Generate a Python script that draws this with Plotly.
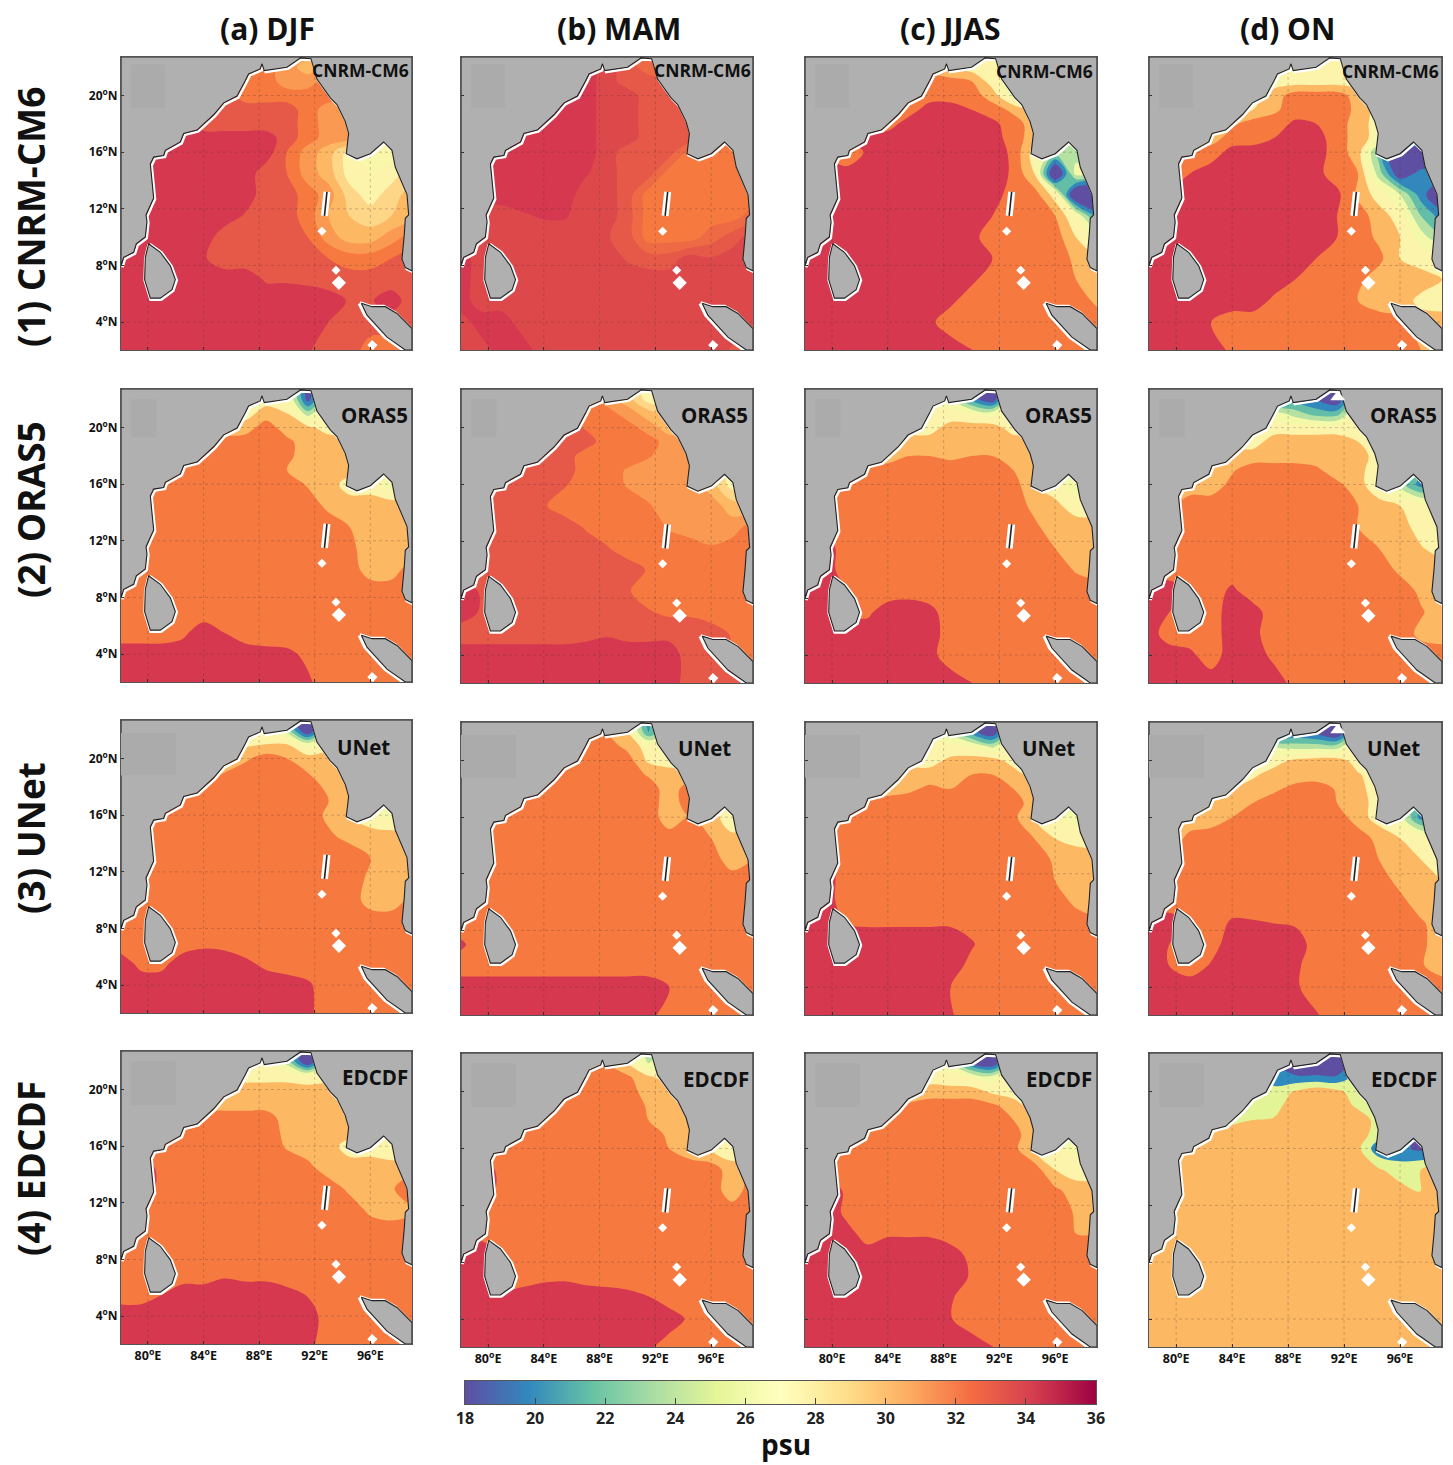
import plotly.graph_objects as go

W, H = 1453, 1465
LONS = [78, 79.5, 81, 82.5, 84, 85.5, 87, 88.5, 90, 91.5, 93, 94.5, 96, 97.5, 99]
LATS = [23, 22, 21, 20, 19, 18, 17, 16, 14.5, 13, 11.5, 10, 8.5, 7, 5.5, 4, 2]
LON_TICKS = [80, 84, 88, 92, 96]
LAT_TICKS = [4, 8, 12, 16, 20]
CBAR_VALUES = list(range(18, 37))
CBAR_TICKS = list(range(18, 37, 2))
SEASONS = ["(a) DJF", "(b) MAM", "(c) JJAS", "(d) ON"]
PRODUCTS = ["CNRM-CM6", "ORAS5", "UNet", "EDCDF"]

COAST_LON = [78.06, 78.25, 78.97, 79.16, 79.81, 79.93, 79.86, 80.41, 80.17, 80.41, 81.13, 81.25, 82.33, 82.57, 83.53, 84.73, 85.45, 86.41, 87.0, 87.24, 88.08, 88.2, 88.37, 90.0, 90.96, 91.73, 92.16, 93.12, 93.6, 94.2, 94.44, 94.27, 95.04, 96.0, 96.96, 97.56, 97.8, 98.64, 98.76, 98.52, 98.44, 98.28, 98.52, 99.0]
COAST_LAT = [7.97, 8.57, 8.93, 9.53, 10.01, 11.09, 11.57, 12.77, 15.17, 15.65, 15.77, 16.13, 16.72, 17.32, 17.56, 18.64, 19.48, 19.96, 21.04, 21.52, 21.88, 22.24, 21.76, 22.0, 22.65, 22.6, 21.16, 19.84, 19.36, 18.16, 17.32, 15.89, 15.53, 15.89, 16.72, 16.13, 14.93, 13.01, 11.57, 11.33, 10.13, 8.45, 7.85, 7.61]
NORTH_LON = [99.0, 78.06]
NORTH_LAT = [22.72, 22.72]
LANKA_LON = [80.05, 79.81, 79.76, 80.17, 80.89, 81.73, 81.97, 81.61, 80.89, 80.05]
LANKA_LAT = [9.53, 8.57, 7.0, 5.69, 5.69, 6.29, 7.0, 7.97, 8.93, 9.53]
SUMATRA_LON = [95.35, 95.76, 97.2, 98.52, 99.0, 99.0, 97.92, 97.08, 96.12, 95.35]
SUMATRA_LAT = [5.33, 4.49, 2.94, 2.03, 2.03, 3.54, 4.61, 5.09, 5.09, 5.33]
ANDAMAN_LON = [92.88, 92.7]
ANDAMAN_LAT = [13.2, 11.5]
NIAS_LON = [95.95, 96.35]
NIAS_LAT = [2.55, 2.2]
ISLE_LON = [92.52, 93.53, 93.74]
ISLE_LAT = [10.42, 7.66, 6.77]
ISLE_SIZE = [7, 7, 11]

CNRM_DJF = [
[33,33,33,33,33,33,32,32,32,31,31,31,31,31,31],
[33,33,33,33,33,33,32,32,31,30,31,32,32,32,32],
[33,33,33,33,33,32,32,32,31,31,32,32,32,32,32],
[33,33,33,33,33,33,32,32,32,32,32,32,32,32,32],
[34,34,34,33,33,33,33,33,33,32,31,31,31,31,31],
[34,34,34,34,33,33,33,33,33,32,31,31,31,31,31],
[34,34,34,34,34,34,34,34,33,32,31,31,30,30,30],
[34,34,34,34,34,34,34,34,32.5,31,30,28,27,27,27],
[34,34,34,34,34,34,34,33,32.5,31,30,28,27.5,28,29],
[34,34,34,34,34,34,34,33,33,32,31,29,28,29,30],
[34,34,34,34,34,34,33.4,33,33,32,30.5,29.5,29,29.5,30],
[34,34,34,34,34,33,33,33,33,32.5,31,30,30,31,32],
[34,34,34,34,33.6,33,33,33,33,33,32.5,32,32,32.5,33],
[34,34,34,34,34,34,34,33.4,33.4,33.3,33,33,33,33,33],
[34,34,34,34,34,34,34,34,34,34,34,33.4,33.4,34,33],
[34,34,34,34,34,34,34,34,34,34,33.5,33,33,33,33],
[34,34,34,34,34,34,34,34,34,33.6,33,33,32,32,32]]
CNRM_MAM = [
[33.5,33.5,33.5,33.5,33.5,33.5,33.5,33.5,33,32,32,32,32,32,32],
[34,34,34,34,34,34,34,33.5,33,32.5,32,32,32,32,32],
[34,34,34,34,34,34,34,33.5,33,33,33,33,33,33,33],
[34,34,34,34,34,34,34,33.5,33.5,33,33,33,33,33,33],
[34,34,34,34,34,34,34,33.5,33.5,33,33,33,33,33,33],
[34,34,34,34,34,34,34,33.5,33.5,33,33,33,33,33,33],
[34,34,34,34,34,34,34,33.5,33.5,33,33,33,32,32,32],
[34,34,34,34,34,34,34,33.5,33,33,33,32,32,32,32],
[34,34,34,34,34,34,33.8,33.5,33,33,32,32,32,32,32],
[34,34,34,34,34,34,33.5,33.5,33,32,32,32,32,32,32],
[33.5,33.5,33.5,33.7,33.8,33.8,33.5,33.5,33,32,32,32,32,32,32.5],
[33.5,33.5,33.5,33.5,33.5,33.5,33.5,33.3,33,32,32,32,32.5,33,33.5],
[34,33.5,33.5,33.5,33.5,33.5,33.5,33.5,33.2,33,33,33.5,33.3,33.5,33.7],
[34,33.5,33.5,33.5,33.5,33.5,33.5,33.5,33.5,33.5,33.5,33.5,33.5,33.5,33.5],
[34,33.5,33.5,33.5,33.5,33.5,33.5,33.5,33.5,33.5,33.5,33.5,33.5,33.5,33.5],
[33.5,34,34,33.5,33.5,33.5,33.5,33.5,33.5,33.5,33.5,33.5,33.5,33.5,33.5],
[33.5,33.5,34,34,33.5,33.5,33.5,33.5,33.5,33.5,33.5,33.5,33.5,33.2,33]]
CNRM_JJAS = [
[28,28,28,28,28,28,28,28,28,28,28,28,28,28,28],
[30,30,30,30,30,30,30,28,28,28,28,28,28,28,28],
[32,32,32,32,32,32,32,32,31,28,26,28,28,28,28],
[32,32,32,32,32,32,32,32,32,30,26,28,28,28,28],
[32,32,32,32,32,32,34,34,33,32,30.5,28,28,28,28],
[32,32,32,32,32,34,34,34,34,33.5,32,30,28,28,28],
[34,34,34,34,34,34,34,34,34,34,32,30,28,26,26],
[34,33,31,33.4,34,34,34,34,34,34,32.6,28,24,24,24],
[34,34,34,34,34,34,34,34,34,34,32.7,29,15,26,24],
[34,34,34,34,34,34,34,34,34,34,32,32,28,15,15],
[34,34,34,34,34,34,34,34,34,33,32,32,31,27,20],
[34,34,34,34,34,34,34,34,33.6,32,32,32,32,29,26],
[34,34,34,34,34,34,34,34,34,33,32,32,32,30.6,29],
[34,34,34,34,34,34,34,34,33.4,32,32,32,32,31,30],
[34,34,34,34,34,34,34,33.4,32,32,32,32,32,32,30.6],
[34,34,34,34,34,34,33.4,32,32,32,32,32,32,32,32],
[34,34,34,34,34,34,34,34,33.1,32,32,32,32,32,32]]
CNRM_ON = [
[28,28,28,28,28,28,28,28,28,28,28,28,28,28,28],
[28,28,28,28,28,28,28,28,27,28,28,28,28,28,28],
[28,28,28,28,28,28,28,28,28,28,28,28,28,28,28],
[28,28,28,28,28,28,30,32,32,32,30,28,28,28,28],
[28,28,28,28,28,29,30.6,32,32,32,30.5,28,28,28,28],
[28,28,28,28,30.6,32,32,33.4,33,32,30,28,28,28,28],
[28,28,28,30,32,32,33,34,33.8,32,30,28,27,25,25],
[30,30,32,32,33.7,34,34,34,34,32,30,22,15,15,15],
[32,32,33,34,34,34,34,34,33.6,32,31,24,17,20,20],
[32,33,34,34,34,34,34,34,34,33.5,30.6,28,25,20,16],
[32,34,34,34,34,34,34,34,34,33,32,30,28,23,20],
[34,34,34,34,34,34,34,34,34,33,32,30.6,29,26,23],
[34,34,34,34,34,34,34,34,33,32,32,31.5,29,28,28],
[34,34,34,34,34,34,34,33,32,32,31.5,30,30,30,29],
[34,34,34,34,34,34,32.6,32,32,32,31,30,30,28.4,28],
[34,34,34,33,32,32,32,32,32,32,32,32,31.5,30,30],
[34,34,34,34,32.6,32,32,32,32,32,32,32,32,31,30]]
ORAS_DJF = [
[28,28,28,28,28,28,28,28,27,18,24,28,28,28,28],
[28,28,28,28,28,28,28,28,28,18,26,28,28,28,28],
[28,28,28,28,28,28,28,30,29,24,28,28,28,28,28],
[30,30,30,30,30,30,30,32,30,29.5,28,28,28,28,28],
[30,30,30,30,30,31.5,32,32,31.5,30,30,30,30,30,30],
[30,30,30,30,32,32,32,32,31.5,30,30,30,30,30,30],
[30,30,30,32,32,32,32,32,31,30,30,30,30,28,24],
[30,32,32,32,32,32,32,32,32,30.8,30,28,28,26,26],
[32,32,32,32,32,32,32,32,32,32,30.5,30,30,30,30],
[32,32,32,32,32,32,32,32,32,32,32,31,30,30,30],
[32,32,32,32,32,32,32,32,32,32,32,31.5,30,30,30],
[32,32,32,32,32,32,32,32,32,32,32,32,30,30,32],
[32,32,32,32,32,32,32,32,32,32,32,32,32,32,32],
[32,32,32,32,32,32,32,32,32,32,32,32,32,32,32],
[32,32,32,32.6,34,33,32,32,32,32,32,32,32,32,32],
[34,34,34,34,34,34,34,33.6,33.4,32.6,32,32,32,32,32],
[34,34,34,34,34,34,34,34,34,33.3,32,32,32,32,32]]
ORAS_MAM = [
[33,33,33,33,33,33,32,31,30,27,28,28,28,28,28],
[33,33,33,33,33,33,32,31,30,28,28,28,28,28,28],
[33,33,33,33,33,33,32,32,31,30,29,29,29,29,29],
[33,33,33,33,33,33,32.4,32,32,31,30,30,30,30,30],
[33,33,33,33,33,33,33,32,32,32,31,31,31,31,31],
[33,33,33,33,33,33,32,32,32,31.6,31,31,31,31,31],
[33,33,33,33,33,33,32,32,31.4,31,31,31,30,28,28],
[33,33,33,33,33,32.6,32,32,31.4,31,31,31,30,28,28],
[33,33,33,33,32.6,32,32,32,32,31.6,31,31,31,30,30],
[33,33,33,33,33,33,32.4,32,32,32,31.4,31,31,31,32],
[33,33,33,33,33,33,33,32.6,32,32,32,32,31.6,32,32],
[33,33,33,33,33,33,33,33,33,32.4,32,32,32,32,32],
[34,33.4,33,33,33,33,33,33,32.6,32,32,32,32,32,32],
[34,33.4,33,33,33,33,33,33,33,32.6,32.3,32.3,32,32,32],
[33,33,33,33,33,33,33.2,33.4,33.2,33.2,33.2,33.2,33,32.4,32],
[34,34,34,34,34,34,34,34,34,34,34,33,33,32.6,32.4],
[34,34,34,34,34,34,34,34,34,34,34,33,33,33,33]]
ORAS_JJAS = [
[28,28,28,28,28,28,28,28,18,16,26,28,28,28,28],
[26,26,26,26,26,26,26,26,20,17,28,28,28,28,28],
[28,28,28,28,28,28,28,27.5,27,26,28,28,28,28,28],
[28,28,28,28,28,28,28,30,30,30,28,28,28,28,28],
[30,30,30,30,30,30,30,30,30,30,30,30,28,28,28],
[30,30,30,30,30,31,31,30.6,31,31,30,30,30,30,30],
[30,30,30,32,32,32,32,32,32,32,31,30,28,26,24],
[32,32,32,32,32,32,32,32,32,32,32,29,28,26,26],
[32,32,32,32,32,32,32,32,32,32,32,30.5,29.5,28,28],
[32,33,32,32,32,32,32,32,32,32,32,31.4,30,30,30],
[32,34,32,32,32,32,32,32,32,32,32,32,31,30,30],
[34,34,32,32,32,32,32,32,32,32,32,32,32,30.8,30],
[34,34,33,32,32,32,32,32,32,32,32,32,32,32,32],
[34,34,33,32.6,34,34.5,33.6,32,32,32,32,32,32,32,32],
[34,34,34,34,34,34,34,32,32,32,32,32,32,32,32],
[34,34,34,34,34,34,33.6,32,32,32,32,32,32,32,32],
[34,34,34,34,34,34,34,34,33.1,32,32,32,32,32,32]]
ORAS_ON = [
[27,27,27,27,27,27,24,20,18,16,26,28,28,28,28],
[28,28,28,28,28,28,20,20,19,17,26,28,28,28,28],
[28,28,28,28,28,28,26,24,22,22,28,28,28,28,28],
[28,28,28,28,28,28,28,28,28,28,28,28,28,28,28],
[28,28,28,28,28,28,30,30,30,30,29,28,28,28,28],
[28,28,28,28,30,30,30,30,30,30,30,28,28,28,28],
[28,28,28,30,30.8,32,32,32,31.4,30,30,27,26,22,20],
[30,30,30,30,31.5,32,32,32,32,31.4,30,27,24,20,20],
[30,30.5,32,32,32,32,32,32,32,32,31,30,29,28,28],
[30,31,32,32,32,32,32,32,32,32,31,30,30,28,28],
[31,32,32,32,32,32,32,32,32,32,32,31,30,29.2,28],
[32,32,32,32,32,32,32,32,32,32,32,32,30.6,30,30],
[34,34,33,32,33.4,32,32,32,32,32,32,32,32,30.6,30],
[34,33,32,32,34,33.8,32,32,32,32,32,32,32,31.2,30],
[34,32,32,32,34,33.5,32,32,32,32,32,32,32,30.5,30],
[34,34,33.4,32,34,34,32.5,32,32,32,32,32,32,32,32],
[34,34,34,34,34,34,34,32.4,32,32,32,32,32,32,32]]
UNET_DJF = [
[28,28,28,28,28,28,28,28,20,16,26,28,28,28,28],
[28,28,28,28,28,28,28,28,24,16,26,28,28,28,28],
[28,28,28,28,28,28,28.6,29,29,26,28,28,28,28,28],
[30,30,30,30,30,30,30.6,32,31,30,30,30,30,30,30],
[30,30,30,30,30,31,32,32,32,31,30,30,30,30,30],
[30,30,30,30,31.4,32,32,32,32,32,30.5,30,30,30,30],
[30,30,30,31.4,32,32,32,32,32,32,31,30,28,26,26],
[30,31,32,32,32,32,32,32,32,32,30.6,29,27.6,26.5,27],
[32,32,32,32,32,32,32,32,32,32,31.3,30.5,30,30,30],
[32,32,32,32,32,32,32,32,32,32,32,32,31,30,30],
[32,32,32,32,32,32,32,32,32,32,32,32,30.6,30,30],
[32,32,32,32,32,32,32,32,32,32,32,32,30.2,30,31.5],
[32,32,32,32,32,32,32,32,32,32,32,32,32,32,32],
[32,32,32,32,32.6,32.4,32,32,32,32,32,32,32,32,32],
[34,32.5,32.5,34,34,34,33.4,32.6,32.4,32,32,32,32,32,32],
[34,34,34,34,34,34,34,34,33.6,33.3,32,32,32,32,32],
[34,34,34,34,34,34,34,34,34,33.4,32,32,32,32,32]]
UNET_MAM = [
[32,32,32,32,32,32,32,30,28,20,28,28,28,28,28],
[32,32,32,32,32,32,32,31,29,21,26,28,28,28,28],
[32,32,32,32,32,32,32,32,30.4,28,28,28,28,28,28],
[32,32,32,32,32,32,32,32,32,28.6,28,28,28,28,28],
[32,32,32,32,32,32,32,32,32,30.8,30,30,30,30,30],
[32,32,32,32,32,32,32,32,32,32,30,32,32,32,32],
[32,32,32,32,32,32,32,32,32,32,30,32,30,28,28],
[32,32,32,32,32,32,32,32,32,32,30,31,30,27.5,28],
[32,32,32,32,32,32,32,32,32,32,31.8,32,31,29.6,30],
[32,32,32,32,32,32,32,32,32,32,32,32,32,30,31],
[32,32,32,32,32,32,32,32,32,32,32,32,32,32,32],
[32,32,32,32,32,32,32,32,32,32,32,32,32,32,32],
[32,32,32,32,32,32,32,32,32,32,32,32,32,32,32],
[33.4,32,32,32,32,32,32,32,32,32,32,32,32,32,32],
[32,32,32,32,32,32,32,32,32,32,32,32,32,32,32],
[34,34,34,34,34,34,34,34,34,34,33,32,32,32,32],
[34,34,34,34,34,34,34,34,34,33.6,32,32,32,32,32]]
UNET_JJAS = [
[28,28,28,28,28,28,28,28,20,17,26,28,28,28,28],
[28,28,28,28,28,28,26,25,20,17,26,28,28,28,28],
[28,28,28,28,28,28,28,27.4,26.8,24.5,28,28,28,28,28],
[28,28,28,28,28,28,28,29.6,30,30,28,28,28,28,28],
[28,28,28,28,28.5,30,30,30,31,31,30,28,28,28,28],
[30,30,30,30,30,30.6,31.4,31,32,32,31,30,30,30,30],
[30,30,30,31.4,32,32,32,32,32,32,32,30,28,26,26],
[32,32,32,32,32,32,32,32,32,32,31.5,29,28,26,26],
[32,32,32,32,32,32,32,32,32,32,32,31,29,28.4,28],
[32,34,32,32,32,32,32,32,32,32,32,32,30.7,30,30],
[32,34,32,32,32,32,32,32,32,32,32,32,31,30,30],
[34,34,32,32,32,32,32,32,32,32,32,32,32,30.6,30],
[34,34,33,32.8,32.8,32.8,32.8,32.8,32.4,32,32,32,32,32,31.4],
[34,34,34,34,34,34,34,34,33.2,32,32,32,32,32,32],
[34,34,34,34,34,34,34,34,32.4,32,32,32,32,32,32],
[34,34,34,34,34,34,34,33,32,32,32,32,32,32,32],
[34,34,34,34,34,34,34,33.2,32,32,32,32,32,32,32]]
UNET_ON = [
[28,28,28,28,28,28,18,19,18,16,26,28,28,28,28],
[28,28,28,28,28,28,18,19,18,16,26,28,28,28,28],
[28,28,28,28,28,28,25,24,24,24,28,28,28,28,28],
[28,28,28,28,28,28,28,29.5,30,30,28,28,28,28,28],
[28,28,28,28,28,28.6,30,30,30,30,29.2,28,28,28,28],
[28,28,28,28,29,30,30.6,31.6,32,30.8,29.6,28,28,28,28],
[28,28,28,29.6,30.6,31,32,32,32,31,30,28,27,22,20],
[30,30,30,30,31,32,32,32,32,32,30,28,26,20,20],
[30,30,31.5,32,32,32,32,32,32,32,32,30.4,29,28,28],
[30,31,32,32,32,32,32,32,32,32,32,31,30,29,28],
[31,32,32,32,32,32,32,32,32,32,32,32,30.4,30,29],
[32,32,32,32,32,32,32,32,32,32,32,32,31.6,30,30],
[34,34,33,32,33.3,33.2,33,32.8,32.4,32,32,32,32,31.3,30],
[34,33,32,32.2,34,34,34,34,32.2,32,32,32,32,31.4,30],
[34,33,32,33.2,34,34,34,33.4,32,32,32,32,32,31.2,30],
[34,34,34,34,34,34,34,33.3,32,32,32,32,32,32,32],
[34,34,34,34,34,34,34,34,33.2,32,32,32,32,32,32]]
EDCDF_DJF = [
[28,28,28,28,28,28,28,28,22,16,26,28,28,28,28],
[28,28,28,28,28,28,28,28,24,16,26,28,28,28,28],
[28,28,28,28,28,28,28,28,28,27,28,28,28,28,28],
[30,30,30,30,30,30,30,30,30,30,30,30,30,30,30],
[30,30,30,30,30,30,30,30,30,30,30,30,30,30,30],
[30,30,30,31,32,32,32,32,30,30,30,30,30,30,30],
[30,30,30,32,32,32,32,32,30.5,30,30,30,30,29,26],
[30,31.5,32,32,32,32,32,32,30.8,30,30,28,28,27,27],
[32,34.9,32,32,32,32,32,32,32,31.5,30,30,30,30,30],
[32,34.9,32,32,32,32,32,32,32,32,32,30.6,30,30.6,33],
[32,32,32,32,32,32,32,32,32,32,32,32,30.6,30,30.6],
[32,32,32,32,32,32,32,32,32,32,32,32,32,32,32],
[32,32,32,32,32,32,32,32,32,32,32,32,32,32,32],
[32,32,32,32,32,32.7,32.4,32.4,32,32,32,32,32,32,32],
[32.2,32.2,33,34,34,34,34,34,33.6,32.9,32,32,32,32,32],
[34,34,34,34,34,34,34,34,34,34,32,32,32,32,32],
[34,34,34,34,34,34,34,34,34,33.5,32,32,32,32,32]]
EDCDF_MAM = [
[32,32,32,32,32,32,32,30,28,24,26,28,28,28,28],
[32,32,32,32,32,32,32,31,29,25,26,28,28,28,28],
[32,32,32,32,32,32,32,32,31.4,29.5,28,28,28,28,28],
[32,32,32,32,32,32,32,32,32,30,29.5,28,28,28,28],
[32,32,32,32,32,32,32,32,32,30.8,30,30,30,30,30],
[32,32,32,32,32,32,32,32,32,31,30,30,30,30,30],
[32,32,32,32,32,32,32,32,32,32,30.6,30,30,28,28],
[32,32,32,32,32,32,32,32,32,32,31,30,29,27.6,28],
[32,34.9,32,32,32,32,32,32,32,32,32,32,32,30,31.4],
[32,34.9,32,32,32,32,32,32,32,32,32,32,32,30,32],
[32,32,32,32,32,32,32,32,32,32,32,32,32,32,32],
[32,32,32,32,32,32,32,32,32,32,32,32,32,32,32],
[32.4,34.9,32,32,32,32,32,32,32,32,32,32,32,32,32],
[34,34.9,32,32,32.6,32.7,32.3,32,32,32,32,32,32,32,32],
[34,34,33.6,34,34,34,34,34,33.6,33.1,32,32,32,32,32],
[34,34,34,34,34,34,34,34,34,34,34,32.6,32,32,32],
[34,34,34,34,34,34,34,34,34,33.3,32,32,32,32,32]]
EDCDF_JJAS = [
[28,28,28,28,28,28,28,28,20,16,26,28,28,28,28],
[26,26,26,26,26,26,26,26,19,17,26,28,28,28,28],
[28,28,28,28,28,28,28,27.6,27,26,28,28,28,28,28],
[28,28,28,28,28,28.6,30,30,30,28.6,28,28,28,28,28],
[30,30,30,30,30,31.6,32,32,32,31.4,30,28,28,28,28],
[30,30,30,30,32,32,32,32,32,32,31,30,30,30,30],
[30,30,30,32,32,32,32,32,32,32,31.6,30,28,26,26],
[32,32,32,32,32,32,32,32,32,32,31.6,29,27.5,26.5,27],
[32,32,32,32,32,32,32,32,32,32,32,32,29,28,28],
[32,34.9,32.6,32,32,32,32,32,32,32,32,32,31.5,30,30],
[32,34.9,32.4,32,32,32,32,32,32,32,32,32,32,30.8,30],
[34,34,34,32,32.8,32.8,32.8,32,32,32,32,32,32,31,31],
[34,34,34,34,34,34,34,34,32.4,32,32,32,32,32,32],
[34,34,34,34,34,34,34,34,32.8,32,32,32,32,32,32],
[34,34,34,34,34,34,34,33.2,32,32,32,32,32,32,32],
[34,34,34,34,34,34,34,33.1,32,32,32,32,32,32,32],
[34,34,34,34,34,34,34,34,34,33.1,32,32,32,32,32]]
EDCDF_ON = [
[25,25,25,25,25,25,25,15,15,15,25,25,25,25,25],
[25,25,25,25,25,25,20,14,14,13,25,25,25,25,25],
[25,25,25,25,25,25,20,20,20,20,25,25,25,25,25],
[25,25,25,25,25,25,25,27.4,30,28,25,25,25,25,25],
[25,25,25,25,25,25,25,30,30,30,26,25,25,25,25],
[25,25,25,25,25.4,27,27.5,30,30,30,30,25,25,25,25],
[25,25,25,27,30,30,30,30,30,30,29,25,23,18,16],
[30,30,30,30,30,30,30,30,30,30,28,20,20,18,20],
[30,30,30,30,30,30,30,30,30,30,30,27.5,25,27,30],
[30,30,30,30,30,30,30,30,30,30,30,30,28.5,26.8,30],
[30,30,30,30,30,30,30,30,30,30,30,30,30,30,30],
[30,30,30,30,30,30,30,30,30,30,30,30,30,30,30],
[30,30,30,30,30,30,30,30,30,30,30,30,30,30,30],
[30,30,30,30,30,30,30,30,30,30,30,30,30,30,30],
[30,30,30,30,30,30,30,30,30,30,30,30,30,30,30],
[30,30,30,30,30,30,30,30,30,30,30,30,30,30,30],
[30,30,30,30,30,30,30,30,30,30,30,30,30,30,30]]

GRIDS = [
    [CNRM_DJF, CNRM_MAM, CNRM_JJAS, CNRM_ON],
    [ORAS_DJF, ORAS_MAM, ORAS_JJAS, ORAS_ON],
    [UNET_DJF, UNET_MAM, UNET_JJAS, UNET_ON],
    [EDCDF_DJF, EDCDF_MAM, EDCDF_JJAS, EDCDF_ON],
]
for grid_row in GRIDS:
    for g in grid_row:
        assert len(g) == len(LATS) and all(len(r) == len(LONS) for r in g)

SPECTRAL_R = [[0, "#5e4fa2"], [0.1, "#3288bd"], [0.2, "#66c2a5"], [0.3, "#abdda4"], [0.4, "#e6f598"],
              [0.5, "#ffffbf"], [0.6, "#fee08b"], [0.7, "#fdae61"], [0.8, "#f46d43"], [0.9, "#d53e4f"], [1, "#9e0142"]]


def stop(z):
    return (z - 18) / 18


MAP_SCALE = [[stop(18), "#5e4fa2"], [stop(20), "#3288bd"], [stop(22), "#62bea6"], [stop(24), "#b5e1a2"], [stop(26), "#f3f9a9"],
             [stop(28), "#fdf4ab"], [stop(30), "#fdb863"], [stop(32), "#f67a40"], [stop(34), "#d5384f"], [stop(36), "#9e0142"]]
STEP_SCALE = [[stop(18), "#5e4fa2"], [stop(19), "#5e4fa2"], [stop(19), "#2f8bbe"], [stop(23), "#2f8bbe"], [stop(23), "#e3f496"],
              [stop(27), "#e3f496"], [stop(27), "#fdb863"], [stop(36), "#fdb863"]]

COL_X = [(121, 412), (461, 753), (805, 1097), (1149, 1442)]
ROW_Y = [
    [(57, 350), (57, 350), (57, 350), (57, 350)],
    [(389, 682), (389, 683), (389, 683), (389, 683)],
    [(720, 1013), (722, 1015), (722, 1015), (722, 1015)],
    [(1051, 1344), (1053, 1347), (1053, 1347), (1053, 1347)],
]
PATCHES = [
    (78.8, 81.2, 19.1, 22.2), (78.8, 80.6, 19.3, 22.0), (78.06, 82.0, 18.8, 21.8), (78.8, 82.0, 18.9, 22.0)
]
LABEL_RIGHT = [
    [(411, 70), (753, 70), (1095, 71), (1441, 71)],
    [(410, 415), (750, 415), (1094, 415), (1439, 415)],
    [(392, 747), (733, 748), (1077, 748), (1422, 748)],
    [(410, 1077), (751, 1079), (1094, 1079), (1439, 1079)],
]
SIZE1 = {(0, 0), (1, 1)}
WHITE_SPOT = {(1, 3), (2, 3)}
FONT = "Open Sans"
XR = [78.06, 99.0]
YR = [2.03, 22.72]

fig = go.Figure()
layout = {}
ann = []
n = 0
for r in range(4):
    for c in range(4):
        n += 1
        xa, ya = f"x{n}", f"y{n}"
        x0, x1 = COL_X[c]
        y0, y1 = ROW_Y[r][c]
        layout[f"xaxis{n}"] = dict(
            domain=[x0 / W, x1 / W], anchor=ya, range=XR, tickmode="array", tickvals=LON_TICKS,
            ticktext=[f"<b>{v}<sup>o</sup>E</b>" for v in LON_TICKS], showticklabels=r == 3, automargin=False,
            ticks="inside", ticklen=3, tickcolor="#333", tickfont=dict(family=FONT, size=12.5, color="#111"),
            showgrid=False, zeroline=False, showline=True, mirror=True, linecolor="#555", linewidth=1.2, layer="above traces")
        layout[f"yaxis{n}"] = dict(
            domain=[1 - y1 / H, 1 - y0 / H], anchor=xa, range=YR, tickmode="array", tickvals=LAT_TICKS,
            ticktext=[f"<b>{v}<sup>o</sup>N</b>" for v in LAT_TICKS], showticklabels=c == 0, automargin=False,
            ticks="inside", ticklen=3, tickcolor="#333", tickfont=dict(family=FONT, size=12, color="#111"),
            showgrid=False, zeroline=False, showline=True, mirror=True, linecolor="#555", linewidth=1.2, layer="above traces")
        z = GRIDS[r][c]
        scale = MAP_SCALE
        if (r, c) == (3, 3):
            cont = dict(start=13, end=37, size=2)
            scale = STEP_SCALE
        elif (r, c) == (0, 1):
            cont = dict(start=12.75, end=37.25, size=0.5)
        elif (r, c) in SIZE1:
            cont = dict(start=12.5, end=37.5, size=1)
        else:
            cont = dict(start=13, end=37, size=2)
        cont.update(coloring="fill", showlines=False)
        common = dict(xaxis=xa, yaxis=ya, showlegend=False, hoverinfo="skip")
        fig.add_trace(go.Contour(x=LONS, y=LATS[::-1], z=z[::-1], colorscale=scale, zmin=18, zmax=36,
                                 autocontour=False, contours=cont, line=dict(width=0, smoothing=1), showscale=False,
                                 xaxis=xa, yaxis=ya, hoverinfo="skip"))
        gx, gy = [], []
        for v in LON_TICKS:
            gx += [v, v, None]; gy += [YR[0], YR[1], None]
        for v in LAT_TICKS:
            gx += [XR[0], XR[1], None]; gy += [v, v, None]
        fig.add_trace(go.Scatter(x=gx, y=gy, mode="lines", line=dict(color="rgba(70,50,50,0.33)", width=0.8, dash="dot"), **common))
        fig.add_trace(go.Scatter(x=[v + 0.1 for v in COAST_LON], y=[v - 0.1 for v in COAST_LAT], mode="lines",
                                 line=dict(color="white", width=2.5), **common))
        fig.add_trace(go.Scatter(x=[v + 0.05 for v in LANKA_LON] + [None] + [v - 0.12 for v in SUMATRA_LON],
                                 y=[v - 0.05 for v in LANKA_LAT] + [None] + SUMATRA_LAT, mode="lines",
                                 line=dict(color="white", width=4), **common))
        land_x = COAST_LON + NORTH_LON + [COAST_LON[0], None] + LANKA_LON + [None] + SUMATRA_LON
        land_y = COAST_LAT + NORTH_LAT + [COAST_LAT[0], None] + LANKA_LAT + [None] + SUMATRA_LAT
        fig.add_trace(go.Scatter(x=land_x, y=land_y, mode="lines", fill="toself", fillcolor="#b0b0b0",
                                 line=dict(color="#222", width=1.1), **common))
        pa = PATCHES[r]
        fig.add_trace(go.Scatter(x=[pa[0], pa[1], pa[1], pa[0], pa[0]], y=[pa[2], pa[2], pa[3], pa[3], pa[2]], mode="none",
                                 fill="toself", fillcolor="#ababab", **common))
        fig.add_trace(go.Scatter(x=ANDAMAN_LON + [None] + NIAS_LON, y=ANDAMAN_LAT + [None] + NIAS_LAT, mode="lines",
                                 line=dict(color="white", width=7), **common))
        fig.add_trace(go.Scatter(x=ANDAMAN_LON, y=ANDAMAN_LAT, mode="lines", line=dict(color="#222", width=1.6), **common))
        fig.add_trace(go.Scatter(x=ISLE_LON, y=ISLE_LAT, mode="markers",
                                 marker=dict(color="white", opacity=1, size=ISLE_SIZE, symbol="diamond", line=dict(width=0)), **common))
        if (r, c) in WHITE_SPOT:
            fig.add_trace(go.Scatter(x=[91.55], y=[22.15], mode="markers",
                                     marker=dict(color="white", opacity=1, size=13, symbol="triangle-up", line=dict(width=0)), **common))
        lx, ly = LABEL_RIGHT[r][c]
        ann.append(dict(text=f"<b>{PRODUCTS[r]}</b>", xref="paper", yref="paper", x=lx / W, y=1 - ly / H, xanchor="right", yanchor="middle",
                        showarrow=False, font=dict(family=FONT, size=17.5 if r == 0 else 20.5, color="#111")))

n += 1
layout[f"xaxis{n}"] = dict(domain=[465 / W, 1096 / W], anchor=f"y{n}", range=[18, 36], tickmode="array", tickvals=CBAR_TICKS,
                           ticktext=[f"<b>{v}</b>" for v in CBAR_TICKS], automargin=False,
                           ticks="inside", ticklen=6, tickcolor="#444", showline=True, mirror=True, linecolor="#555", linewidth=1,
                           tickfont=dict(family=FONT, size=16, color="#222"), showgrid=False, zeroline=False, layer="above traces")
layout[f"yaxis{n}"] = dict(domain=[1 - 1404 / H, 1 - 1381 / H], anchor=f"x{n}", range=[0, 1], showticklabels=False, ticks="", automargin=False,
                           showgrid=False, zeroline=False, showline=True, mirror=True, linecolor="#555", linewidth=1)
fig.add_trace(go.Heatmap(x=CBAR_VALUES, y=[0, 1], z=[CBAR_VALUES, CBAR_VALUES], colorscale=SPECTRAL_R, zmin=18, zmax=36, zsmooth="best",
                         showscale=False, xaxis=f"x{n}", yaxis=f"y{n}", hoverinfo="skip"))

TITLE_CX = [267, 619, 950, 1287]
for s, cx in zip(SEASONS, TITLE_CX):
    ann.append(dict(text=f"<b>{s}</b>", xref="paper", yref="paper", x=cx / W, y=1 - 28 / H, xanchor="center", yanchor="middle",
                    showarrow=False, font=dict(family=FONT, size=30, color="#111")))
ROW_LABELS = ["(1) CNRM-CM6", "(2) ORAS5", "(3) UNet", "(4) EDCDF"]
ROW_CY = [217, 510, 838, 1169]
for t, cy in zip(ROW_LABELS, ROW_CY):
    ann.append(dict(text=f"<b>{t}</b>", xref="paper", yref="paper", x=30 / W, y=1 - cy / H, xanchor="center", yanchor="middle",
                    textangle=-90, showarrow=False, font=dict(family=FONT, size=37, color="#111")))
ann.append(dict(text="<b>psu</b>", xref="paper", yref="paper", x=786 / W, y=1 - 1444 / H, xanchor="center", yanchor="middle",
                showarrow=False, font=dict(family=FONT, size=28, color="#111")))

fig.update_layout(width=W, height=H, margin=dict(l=0, r=0, t=0, b=0), paper_bgcolor="white", plot_bgcolor="white",
                  annotations=ann, showlegend=False, **layout)
fig.write_html("out.html", config={"displayModeBar": False}, post_script="document.body.style.margin='0';")
